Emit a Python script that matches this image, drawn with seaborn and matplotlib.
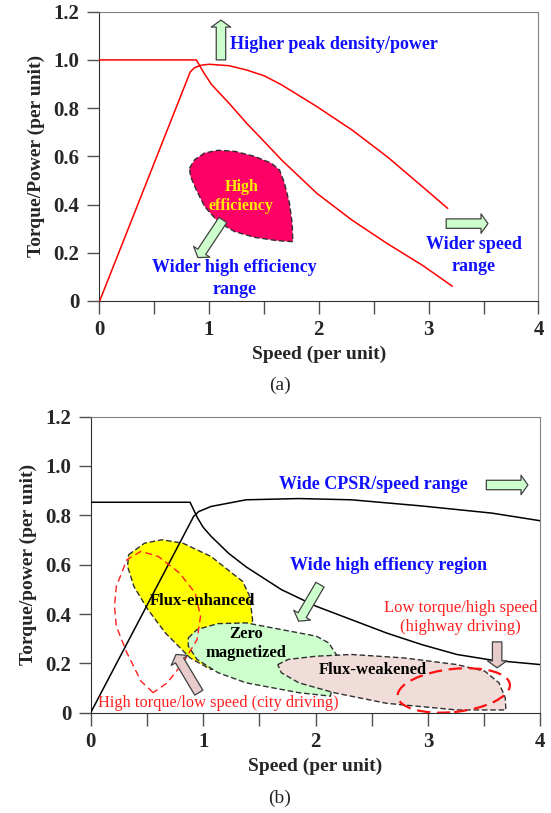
import pandas as pd
import seaborn as sns
import matplotlib.pyplot as plt
from matplotlib.patches import Ellipse

sns.set_style('ticks')
plt.rcParams['font.family'] = ['Liberation Serif', 'DejaVu Serif']

# ---- panel (a): torque and power curves (red) ----
a_torque_speed = [0, 0.886, 0.96, 1.024, 1.184, 1.344, 1.504, 1.664, 1.984, 2.304, 2.624, 2.944, 3.216]
a_torque = [1.0, 1.0, 0.942, 0.898, 0.82, 0.737, 0.661, 0.584, 0.446, 0.335, 0.238, 0.148, 0.061]
a_power_speed = [0.006, 0.83, 0.87, 0.93, 1.0, 1.184, 1.344, 1.504, 1.664, 1.984, 2.304, 2.624, 2.944, 3.174]
a_power = [0, 0.95, 0.968, 0.978, 0.982, 0.976, 0.958, 0.934, 0.896, 0.806, 0.709, 0.598, 0.474, 0.384]

# high efficiency region outline
a_eff_x = [0.824, 0.870, 0.961, 1.082, 1.233, 1.415, 1.567, 1.642, 1.688, 1.733, 1.758, 1.764,
           1.627, 1.415, 1.233, 1.082, 0.961, 0.885, 0.833]
a_eff_y = [0.551, 0.586, 0.614, 0.625, 0.621, 0.600, 0.572, 0.544, 0.489, 0.406, 0.322, 0.246,
           0.250, 0.264, 0.288, 0.329, 0.392, 0.461, 0.517]

# ---- panel (b): torque and power curves (black) ----
b_torque_speed = [0, 0.884, 0.95, 1.0, 1.071, 1.227, 1.383, 1.696, 2.008, 2.32, 2.632, 2.945, 3.257, 3.569, 4.0]
b_torque = [0.853, 0.853, 0.79, 0.752, 0.715, 0.646, 0.591, 0.499, 0.431, 0.377, 0.323, 0.276, 0.236, 0.213, 0.195]
b_power_speed = [0, 0.915, 0.96, 1.071, 1.383, 1.852, 2.32, 2.945, 3.569, 4.0]
b_power = [0, 0.795, 0.815, 0.836, 0.863, 0.868, 0.863, 0.838, 0.809, 0.778]

# operating regions
flux_enh_x = [0.337, 0.478, 0.634, 0.821, 1.071, 1.352, 1.415, 1.44, 1.43, 1.196, 1.071, 0.884, 0.665, 0.509, 0.384, 0.328]
flux_enh_y = [0.640, 0.687, 0.701, 0.687, 0.633, 0.532, 0.472, 0.377, 0.337, 0.216, 0.175, 0.222, 0.323, 0.418, 0.512, 0.593]
zero_mag_x = [0.868, 0.946, 1.133, 1.383, 1.696, 2.008, 2.117, 2.195, 2.164, 2.133, 1.852, 1.383, 1.133, 0.946, 0.868]
zero_mag_y = [0.303, 0.337, 0.361, 0.364, 0.337, 0.31, 0.283, 0.229, 0.148, 0.067, 0.081, 0.121, 0.162, 0.216, 0.27]
flux_weak_x = [1.664, 1.758, 2.008, 2.32, 2.788, 3.257, 3.507, 3.632, 3.688, 3.694, 3.257, 2.632, 2.164, 1.852, 1.696]
flux_weak_y = [0.195, 0.216, 0.229, 0.236, 0.222, 0.195, 0.168, 0.121, 0.061, 0.011, 0.011, 0.038, 0.081, 0.121, 0.162]
city_x = [0.556, 0.447, 0.322, 0.228, 0.212, 0.228, 0.322, 0.447, 0.603, 0.79, 0.93, 0.977, 0.946, 0.821, 0.681, 0.556]
city_y = [0.081, 0.128, 0.243, 0.35, 0.431, 0.512, 0.62, 0.654, 0.633, 0.566, 0.485, 0.391, 0.296, 0.202, 0.121, 0.081]
highway_center = (3.23, 0.09)
highway_size = (1.0, 0.175)

y_ticks = [0, 0.2, 0.4, 0.6, 0.8, 1.0, 1.2]
y_ticklabels = ['0', '0.2', '0.4', '0.6', '0.8', '1.0', '1.2']
x_ticks = [0, 1, 2, 3, 4]
x_minor = [0.5, 1.5, 2.5, 3.5]

BLUE = '#1010ff'
GREEN = '#ccffcc'
PINK = '#e8cccc'


def style_axes(ax, ylabel):
    ax.set_xlim(0, 4)
    ax.set_ylim(0, 1.2)
    ax.set_xticks(x_ticks)
    ax.set_xticklabels([str(t) for t in x_ticks])
    ax.set_xticks(x_minor, minor=True)
    ax.set_yticks(y_ticks)
    ax.set_yticklabels(y_ticklabels)
    ax.tick_params(which='both', direction='out', length=9, width=1, color='#505050',
                   labelsize=15, pad=5)
    for lbl in ax.get_xticklabels() + ax.get_yticklabels():
        lbl.set_fontweight('bold')
    for s in ['top', 'right']:
        ax.spines[s].set_color('#808080')
    for s in ['left', 'bottom']:
        ax.spines[s].set_color('#303030')
    ax.set_xlabel('Speed (per unit)', fontsize=14, fontweight='bold', labelpad=4)
    ax.set_ylabel(ylabel, fontsize=14, fontweight='bold', labelpad=6)


def block_arrow(ax, tail, tip, fc):
    ax.annotate('', xy=tip, xytext=tail,
                arrowprops=dict(arrowstyle='simple,head_length=0.25,head_width=0.7,tail_width=0.34',
                                fc=fc, ec='#404040', lw=0.9, mutation_scale=20,
                                shrinkA=0, shrinkB=0), zorder=6)


fig = plt.figure(figsize=(5.51, 8.13), dpi=100)
ax1 = fig.add_axes([0.1797, 0.6298, 0.7976, 0.3558])
ax2 = fig.add_axes([0.1646, 0.1234, 0.8160, 0.3641])

# ---------------- (a) ----------------
ax1.fill(a_eff_x, a_eff_y, facecolor='#ff0066', edgecolor='#303030', lw=1, ls=(0, (4, 2)), zorder=2)
sns.lineplot(x=a_torque_speed, y=a_torque, ax=ax1, color='red', lw=1.1, sort=False, estimator=None, zorder=3)
sns.lineplot(x=a_power_speed, y=a_power, ax=ax1, color='red', lw=1.1, sort=False, estimator=None, zorder=3)
ax1.text(1.294, 0.472, 'High', color='#ffee00', fontsize=11.5, fontweight='bold', ha='center', va='center')
ax1.text(1.294, 0.392, 'efficiency', color='#ffee00', fontsize=11.5, fontweight='bold', ha='center', va='center')
block_arrow(ax1, (1.11, 1.0), (1.11, 1.165), GREEN)
block_arrow(ax1, (1.127, 0.336), (0.9, 0.18), GREEN)
block_arrow(ax1, (3.16, 0.321), (3.54, 0.321), GREEN)
ax1.text(1.19, 1.062, 'Higher peak density/power', color=BLUE, fontsize=13, fontweight='bold',
         ha='left', va='center')
ax1.text(1.233, 0.139, 'Wider high efficiency', color=BLUE, fontsize=13, fontweight='bold',
         ha='center', va='center')
ax1.text(1.233, 0.047, 'range', color=BLUE, fontsize=13, fontweight='bold', ha='center', va='center')
ax1.text(3.41, 0.234, 'Wider speed', color=BLUE, fontsize=13, fontweight='bold', ha='center', va='center')
ax1.text(3.41, 0.141, 'range', color=BLUE, fontsize=13, fontweight='bold', ha='center', va='center')
style_axes(ax1, 'Torque/Power (per unit)')
fig.text(280 / 551, 1 - 385 / 813, '(a)', fontsize=14, ha='center', va='center')

# ---------------- (b) ----------------
ax2.fill(flux_enh_x, flux_enh_y, facecolor='#ffff00', edgecolor='#303030', lw=1, ls=(0, (4, 2)), zorder=2)
ax2.fill(zero_mag_x, zero_mag_y, facecolor=GREEN, edgecolor='#303030', lw=1, ls=(0, (4, 2)), zorder=2.1)
ax2.fill(flux_weak_x, flux_weak_y, facecolor='#f0dcd8', edgecolor='#303030', lw=1, ls=(0, (4, 2)), zorder=2.2)
ax2.plot(city_x, city_y, color='#ff2020', lw=1, ls=(0, (5, 3)), zorder=4)
ax2.add_patch(Ellipse(highway_center, highway_size[0], highway_size[1], angle=2.5, fill=False,
                      ec='#ff1010', lw=1.6, ls=(0, (6, 3)), zorder=4))
sns.lineplot(x=b_torque_speed, y=b_torque, ax=ax2, color='black', lw=1.1, sort=False, estimator=None, zorder=3)
sns.lineplot(x=b_power_speed, y=b_power, ax=ax2, color='black', lw=1.1, sort=False, estimator=None, zorder=3)
block_arrow(ax2, (3.52, 0.923), (3.89, 0.923), GREEN)
block_arrow(ax2, (2.04, 0.519), (1.85, 0.371), GREEN)
block_arrow(ax2, (0.962, 0.081), (0.759, 0.236), PINK)
block_arrow(ax2, (3.616, 0.287), (3.616, 0.182), PINK)
ax2.text(2.514, 0.923, 'Wide CPSR/speed range', color=BLUE, fontsize=13, fontweight='bold',
         ha='center', va='center')
ax2.text(2.648, 0.597, 'Wide high effiency region', color=BLUE, fontsize=13, fontweight='bold',
         ha='center', va='center')
ax2.text(3.288, 0.425, 'Low torque/high speed', color='#ff2020', fontsize=12, ha='center', va='center')
ax2.text(3.288, 0.346, '(highway driving)', color='#ff2020', fontsize=12, ha='center', va='center')
ax2.text(1.133, 0.04, 'High torque/low speed (city driving)', color='#ff2020', fontsize=11.8,
         ha='center', va='center', zorder=5)
ax2.text(0.993, 0.451, 'Flux-enhanced', color='black', fontsize=12, fontweight='bold', ha='center',
         va='center', zorder=5)
ax2.text(1.383, 0.317, 'Zero', color='black', fontsize=12, fontweight='bold', ha='center', va='center', zorder=5)
ax2.text(1.383, 0.24, 'magnetized', color='black', fontsize=12, fontweight='bold', ha='center',
         va='center', zorder=5)
ax2.text(2.507, 0.173, 'Flux-weakened', color='black', fontsize=12, fontweight='bold', ha='center',
         va='center', zorder=5)
style_axes(ax2, 'Torque/power (per unit)')
fig.text(280 / 551, 1 - 798 / 813, '(b)', fontsize=14, ha='center', va='center')

fig.savefig('out.png', dpi=100)
